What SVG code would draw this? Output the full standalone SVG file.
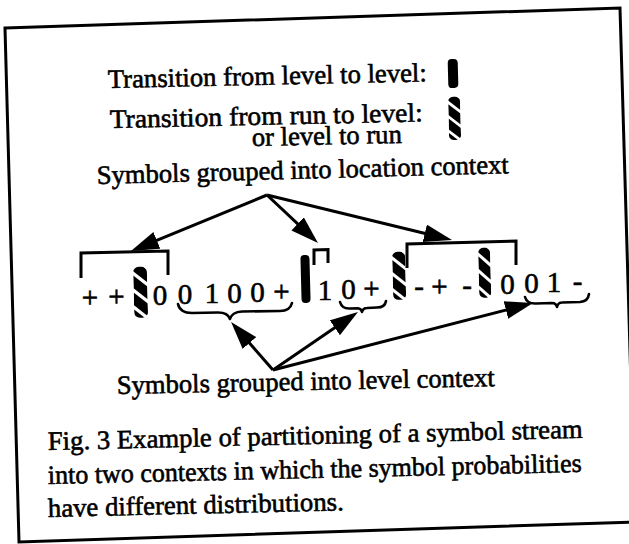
<svg xmlns="http://www.w3.org/2000/svg" xmlns:xlink="http://www.w3.org/1999/xlink" width="629" height="544" viewBox="0 0 629 544">
<style>
.t{font-family:"Liberation Serif","Times New Roman",serif;font-size:26.5px;fill:#000;stroke:#000;stroke-width:0.6px}
.s{font-family:"Liberation Serif","Times New Roman",serif;font-size:29px;fill:#000;stroke:#000;stroke-width:0.6px;text-anchor:middle}
.ln{fill:none;stroke:#000;stroke-width:3;stroke-linecap:butt;stroke-linejoin:miter}
.br{fill:none;stroke:#000;stroke-width:3;stroke-linejoin:miter}
.cb{fill:none;stroke:#000;stroke-width:2.6;stroke-linecap:round;stroke-linejoin:round}
</style>
<defs>
<marker id="ah" markerUnits="userSpaceOnUse" markerWidth="30" markerHeight="20" refX="10" refY="9" orient="auto">
<path d="M0,0 L28,9 L0,18 Z" fill="#000"/>
</marker>
<clipPath id="hc" clipPathUnits="userSpaceOnUse"><rect x="0" y="0" width="12" height="48" rx="5"/></clipPath>
<g id="hatch" clip-path="url(#hc)" fill="#000">
<polygon points="0,-8 12,2.8 12,14.8 0,4"/>
<polygon points="0,8 12,18.8 12,30.8 0,20"/>
<polygon points="0,24 12,34.8 12,46.8 0,36"/>
<polygon points="0,40 12,50.8 12,62.8 0,52"/>
</g>
</defs>
<rect width="629" height="544" fill="#fff"/>
<g id="frame">
<polygon points="5,28 620,8 635,522 19,542" fill="none" stroke="#000" stroke-width="3"/>
</g>
<g id="legend">
<text class="t" x="108" y="88" transform="rotate(-1.2 108 88)" textLength="319" lengthAdjust="spacingAndGlyphs">Transition from level to level:</text>
<rect x="448" y="59" width="10" height="29" rx="4" fill="#000" transform="rotate(-1.5 453 73)"/>
<text class="t" x="110" y="128" transform="rotate(-1.2 110 128)" textLength="313" lengthAdjust="spacingAndGlyphs">Transition from run to level:</text>
<text class="t" x="252" y="146" transform="rotate(-1.2 252 146)" textLength="150" lengthAdjust="spacingAndGlyphs">or level to run</text>
<use xlink:href="#hatch" href="#hatch" transform="translate(448,97) rotate(-1.5) scale(1,0.9)"/>
</g>
<g id="location-label">
<text class="t" x="97" y="184" transform="rotate(-1.5 97 184)" textLength="412" lengthAdjust="spacingAndGlyphs">Symbols grouped into location context</text>
</g>
<g id="stream">
<text class="s" x="90 116.5" y="307.3 306.4">++</text>
<use xlink:href="#hatch" href="#hatch" transform="translate(133,267) rotate(-1.5) scale(1.15,1.06)"/>
<text class="s" x="160 185 212 234.5 257.5 281.5" y="305 304.1 303.3 302.5 301.8 301">00100+</text>
<rect x="301" y="255" width="9" height="48" rx="4" fill="#000" transform="rotate(-1.5 305 279)"/>
<text class="s" x="325 348.5 371.5" y="299.5 298.7 298">10+</text>
<use xlink:href="#hatch" href="#hatch" transform="translate(392,252) rotate(-1.5) scale(1.08,1)"/>
<text class="s" x="419 439.5 467" y="296.4 295.8 294.9">-+-</text>
<use xlink:href="#hatch" href="#hatch" transform="translate(478,248) rotate(-1.5) scale(1,1.04)"/>
<text class="s" x="507.5 531.5 554 577.5" y="293.5 292.7 292 291.2">001-</text>
</g>
<g id="location-brackets">
<path class="br" d="M81,278 L81,253 L168,251 L168,275"/>
<path class="br" d="M314,265 L314,250 L328,249.5 L328,263"/>
<path class="br" d="M407,268 L407,244 L516,241 L516,265"/>
</g>
<g id="level-braces">
<path class="cb" d="M178,304 Q180,313 192,313 L218,312.5 Q228,312.5 230,319 Q232,312 242,311.5 L280,311 Q290,311 292,303"/>
<path class="cb" d="M340,302 Q342,309 350,308.5 L358,308.3 Q361,308.5 362,312 Q363,308 367,308 L377,307.5 Q385,307.5 386,301"/>
<path class="cb" d="M525,297 Q527,304 536,303.5 L552,303 Q556,303 557,307 Q558,302.5 562,302.5 L580,302 Q588,301.5 589,294"/>
</g>
<g id="connectors">
<line class="ln" x1="267" y1="195" x2="147.6" y2="244.1" marker-end="url(#ah)"/>
<line class="ln" x1="267" y1="195" x2="304.9" y2="230.7" marker-end="url(#ah)"/>
<line class="ln" x1="267" y1="195" x2="434.5" y2="235.7" marker-end="url(#ah)"/>
<line class="ln" x1="273" y1="370" x2="242.9" y2="335.5" marker-end="url(#ah)"/>
<line class="ln" x1="273" y1="370" x2="343.1" y2="322.1" marker-end="url(#ah)"/>
<line class="ln" x1="273" y1="370" x2="515.6" y2="307.5" marker-end="url(#ah)"/>
</g>
<g id="level-label">
<text class="t" x="117" y="394" transform="rotate(-1.2 117 394)" textLength="378" lengthAdjust="spacingAndGlyphs">Symbols grouped into level context</text>
</g>
<g id="caption">
<text class="t" x="48" y="450" transform="rotate(-1.3 48 450)" textLength="535" lengthAdjust="spacingAndGlyphs">Fig. 3  Example of partitioning of a symbol stream</text>
<text class="t" x="48" y="484" transform="rotate(-1.3 48 484)" textLength="534" lengthAdjust="spacingAndGlyphs">into two contexts in which the symbol probabilities</text>
<text class="t" x="48" y="517" transform="rotate(-1.3 48 517)" textLength="296" lengthAdjust="spacingAndGlyphs">have different distributions.</text>
</g>
</svg>
